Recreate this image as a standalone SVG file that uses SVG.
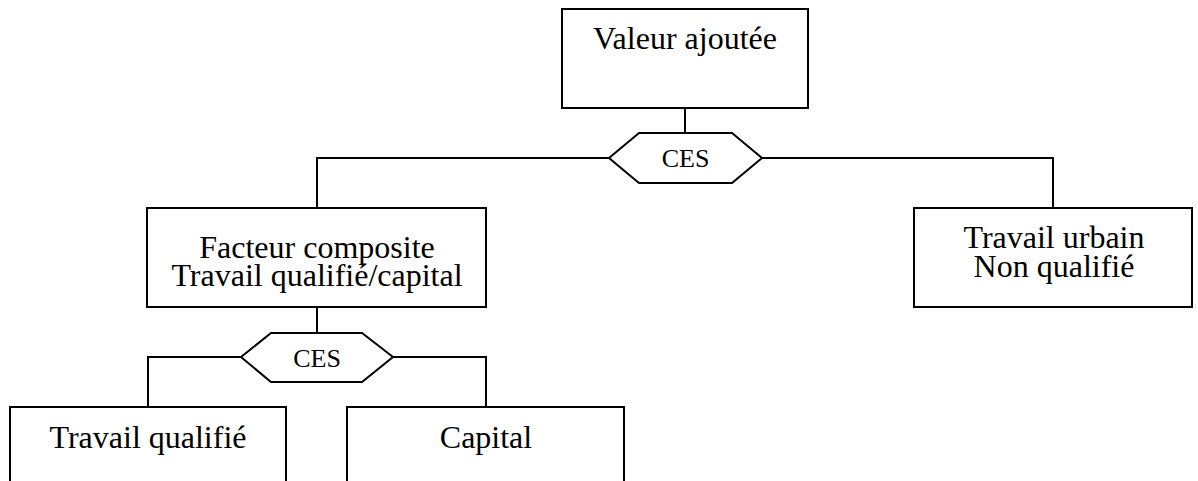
<svg xmlns="http://www.w3.org/2000/svg" width="1198" height="481" viewBox="0 0 1198 481">
<style>
.box{fill:#fff;stroke:#000;stroke-width:2}
.hex{fill:#fff;stroke:#000;stroke-width:2;stroke-linejoin:miter}
.conn{fill:none;stroke:#000;stroke-width:2}
.t{font-family:"Liberation Serif","Times New Roman",serif;font-size:32px;fill:#000;text-anchor:middle}
.c{font-family:"Liberation Serif","Times New Roman",serif;font-size:26px;fill:#000;text-anchor:middle}
</style>
<rect width="1198" height="481" fill="#fff"/>
<g id="connectors">
<path class="conn" d="M685,108 V133"/>
<path class="conn" d="M609,158 H317 V208"/>
<path class="conn" d="M762,158 H1053 V208"/>
<path class="conn" d="M317,307 V333"/>
<path class="conn" d="M241,357 H148 V407"/>
<path class="conn" d="M393,357 H486 V407"/>
</g>
<g id="valeur-ajoutee">
<rect class="box" x="562" y="9" width="246" height="99"/>
<text class="t" x="685" y="49">Valeur ajoutée</text>
</g>
<g id="ces1">
<polygon class="hex" points="609,158 639,133 732,133 762,158 732,183 639,183"/>
<text class="c" x="685.5" y="167">CES</text>
</g>
<g id="facteur-composite">
<rect class="box" x="147" y="208" width="339" height="99"/>
<text class="t"><tspan x="317" y="258">Facteur composite</tspan><tspan x="317" y="286">Travail qualifié/capital</tspan></text>
</g>
<g id="travail-urbain">
<rect class="box" x="914" y="208" width="278" height="99"/>
<text class="t"><tspan x="1054" y="248">Travail urbain</tspan><tspan x="1054" y="277">Non qualifié</tspan></text>
</g>
<g id="ces2">
<polygon class="hex" points="241,357 271,333 362,333 393,357 362,382 271,382"/>
<text class="c" x="317" y="367">CES</text>
</g>
<g id="travail-qualifie">
<rect class="box" x="10" y="407" width="276" height="100"/>
<text class="t" x="148" y="448">Travail qualifié</text>
</g>
<g id="capital">
<rect class="box" x="347" y="407" width="277" height="100"/>
<text class="t" x="486" y="448">Capital</text>
</g>
</svg>
